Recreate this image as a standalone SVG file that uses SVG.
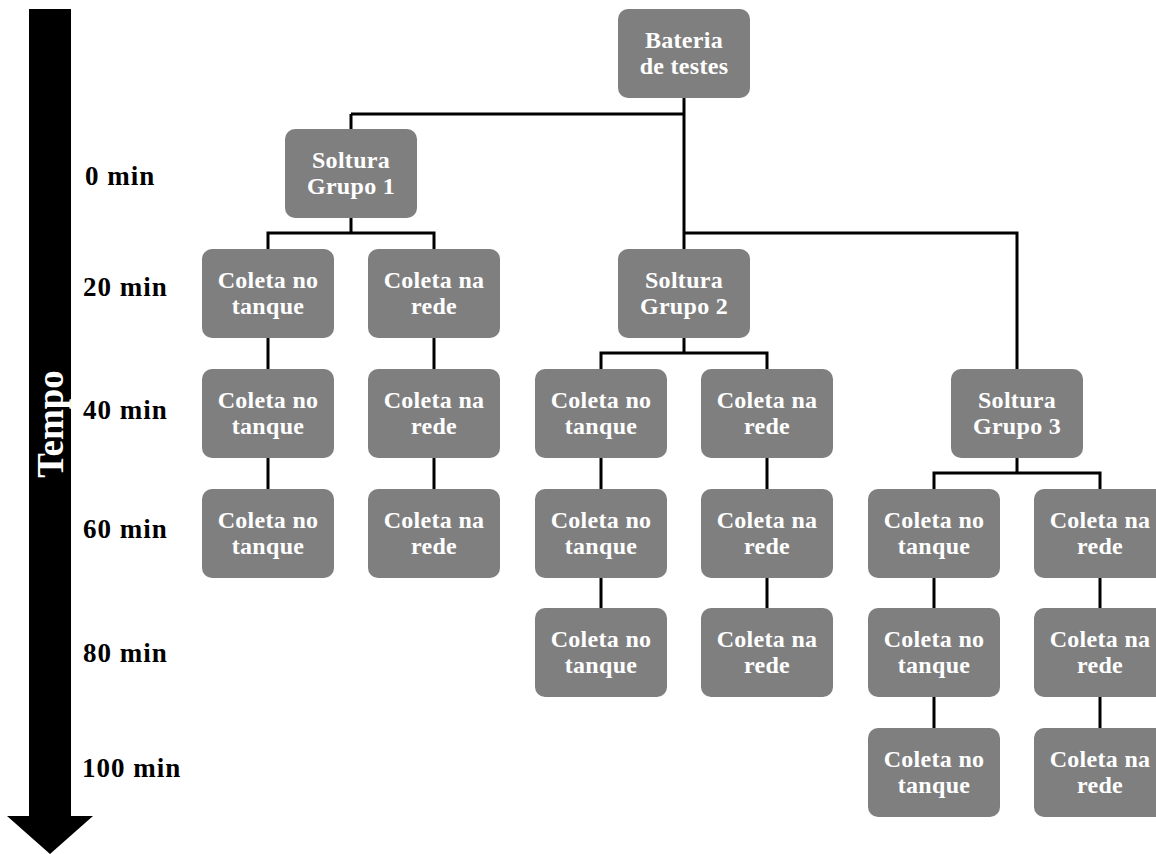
<svg xmlns="http://www.w3.org/2000/svg" width="1156" height="854" viewBox="0 0 1156 854">
<style>
.box{fill:#7f7f7f;}
.bt{font-family:"Liberation Serif","Times New Roman",serif;font-weight:bold;font-size:24px;fill:#ffffff;text-anchor:middle;letter-spacing:0.3px;}
.lbl{font-family:"Liberation Serif","Times New Roman",serif;font-weight:bold;font-size:27px;fill:#000000;letter-spacing:1px;}
.con{fill:none;stroke:#000000;stroke-width:3;}
</style>
<rect width="1156" height="854" fill="#ffffff"/>
<g id="timeline">
<polygon points="29,9 71,9 71,816 93,816 50,854 7,816 29,816" fill="#000000"/>
<text transform="translate(63,424) rotate(-90)" text-anchor="middle" style="font-family:'Liberation Serif','Times New Roman',serif;font-weight:bold;font-size:37px;fill:#ffffff;">Tempo</text>
</g>
<g id="time-labels">
<text class="lbl" x="85" y="185">0 min</text>
<text class="lbl" x="83" y="296">20 min</text>
<text class="lbl" x="83" y="419">40 min</text>
<text class="lbl" x="83" y="538">60 min</text>
<text class="lbl" x="83" y="662">80 min</text>
<text class="lbl" x="82" y="777">100 min</text>
</g>
<g id="connectors">
<path class="con" d="M684,98 V249"/>
<path class="con" d="M351,114 H684"/>
<path class="con" d="M351,114 V129"/>
<path class="con" d="M684,233 H1017 V369"/>
<path class="con" d="M351,217 V233 M268,249 V233 H434 V249"/>
<path class="con" d="M684,337 V353 M601,369 V353 H767 V369"/>
<path class="con" d="M1017,457 V473 M934,489 V473 H1100 V489"/>
<path class="con" d="M268,337 V489 M434,337 V489"/>
<path class="con" d="M601,457 V609 M767,457 V609"/>
<path class="con" d="M934,577 V729 M1100,577 V729"/>
</g>
<g id="n-bateria"><rect class="box" x="618" y="9" width="132" height="89" rx="10"/><text class="bt" x="684" y="48">Bateria</text><text class="bt" x="684" y="74">de testes</text></g>
<g id="n-soltura1"><rect class="box" x="285" y="129" width="132" height="89" rx="10"/><text class="bt" x="351" y="168">Soltura</text><text class="bt" x="351" y="194">Grupo 1</text></g>
<g id="n-soltura2"><rect class="box" x="618" y="249" width="132" height="89" rx="10"/><text class="bt" x="684" y="288">Soltura</text><text class="bt" x="684" y="314">Grupo 2</text></g>
<g id="n-soltura3"><rect class="box" x="951" y="369" width="132" height="89" rx="10"/><text class="bt" x="1017" y="408">Soltura</text><text class="bt" x="1017" y="434">Grupo 3</text></g>
<g id="n-g1-t20"><rect class="box" x="202" y="249" width="132" height="89" rx="10"/><text class="bt" x="268" y="288">Coleta no</text><text class="bt" x="268" y="314">tanque</text></g>
<g id="n-g1-r20"><rect class="box" x="368" y="249" width="132" height="89" rx="10"/><text class="bt" x="434" y="288">Coleta na</text><text class="bt" x="434" y="314">rede</text></g>
<g id="n-g1-t40"><rect class="box" x="202" y="369" width="132" height="89" rx="10"/><text class="bt" x="268" y="408">Coleta no</text><text class="bt" x="268" y="434">tanque</text></g>
<g id="n-g1-r40"><rect class="box" x="368" y="369" width="132" height="89" rx="10"/><text class="bt" x="434" y="408">Coleta na</text><text class="bt" x="434" y="434">rede</text></g>
<g id="n-g1-t60"><rect class="box" x="202" y="489" width="132" height="89" rx="10"/><text class="bt" x="268" y="528">Coleta no</text><text class="bt" x="268" y="554">tanque</text></g>
<g id="n-g1-r60"><rect class="box" x="368" y="489" width="132" height="89" rx="10"/><text class="bt" x="434" y="528">Coleta na</text><text class="bt" x="434" y="554">rede</text></g>
<g id="n-g2-t40"><rect class="box" x="535" y="369" width="132" height="89" rx="10"/><text class="bt" x="601" y="408">Coleta no</text><text class="bt" x="601" y="434">tanque</text></g>
<g id="n-g2-r40"><rect class="box" x="701" y="369" width="132" height="89" rx="10"/><text class="bt" x="767" y="408">Coleta na</text><text class="bt" x="767" y="434">rede</text></g>
<g id="n-g2-t60"><rect class="box" x="535" y="489" width="132" height="89" rx="10"/><text class="bt" x="601" y="528">Coleta no</text><text class="bt" x="601" y="554">tanque</text></g>
<g id="n-g2-r60"><rect class="box" x="701" y="489" width="132" height="89" rx="10"/><text class="bt" x="767" y="528">Coleta na</text><text class="bt" x="767" y="554">rede</text></g>
<g id="n-g2-t80"><rect class="box" x="535" y="608" width="132" height="89" rx="10"/><text class="bt" x="601" y="647">Coleta no</text><text class="bt" x="601" y="673">tanque</text></g>
<g id="n-g2-r80"><rect class="box" x="701" y="608" width="132" height="89" rx="10"/><text class="bt" x="767" y="647">Coleta na</text><text class="bt" x="767" y="673">rede</text></g>
<g id="n-g3-t60"><rect class="box" x="868" y="489" width="132" height="89" rx="10"/><text class="bt" x="934" y="528">Coleta no</text><text class="bt" x="934" y="554">tanque</text></g>
<g id="n-g3-r60"><rect class="box" x="1034" y="489" width="132" height="89" rx="10"/><text class="bt" x="1100" y="528">Coleta na</text><text class="bt" x="1100" y="554">rede</text></g>
<g id="n-g3-t80"><rect class="box" x="868" y="608" width="132" height="89" rx="10"/><text class="bt" x="934" y="647">Coleta no</text><text class="bt" x="934" y="673">tanque</text></g>
<g id="n-g3-r80"><rect class="box" x="1034" y="608" width="132" height="89" rx="10"/><text class="bt" x="1100" y="647">Coleta na</text><text class="bt" x="1100" y="673">rede</text></g>
<g id="n-g3-t100"><rect class="box" x="868" y="728" width="132" height="89" rx="10"/><text class="bt" x="934" y="767">Coleta no</text><text class="bt" x="934" y="793">tanque</text></g>
<g id="n-g3-r100"><rect class="box" x="1034" y="728" width="132" height="89" rx="10"/><text class="bt" x="1100" y="767">Coleta na</text><text class="bt" x="1100" y="793">rede</text></g>
</svg>
